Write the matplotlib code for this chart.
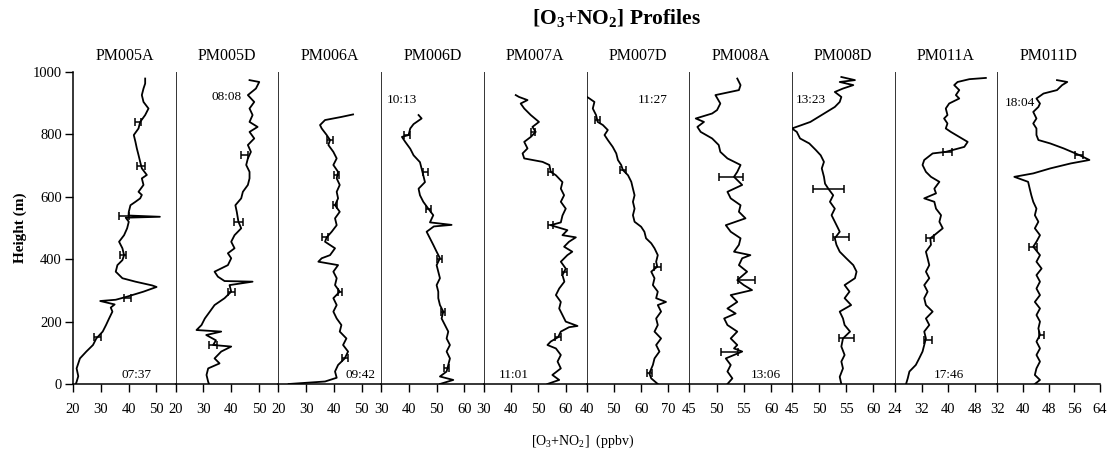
import matplotlib
matplotlib.use('Agg')
import matplotlib.pyplot as plt

plt.rcParams['font.family'] = ['Liberation Serif', 'DejaVu Serif']
plt.rcParams['mathtext.default'] = 'regular'

# ---------------- data ----------------
names = ["PM005A", "PM005D", "PM006A", "PM006D", "PM007A",
         "PM007D", "PM008A", "PM008D", "PM011A", "PM011D"]
times = ["07:37", "08:08", "09:42", "10:13", "11:01",
         "11:27", "13:06", "13:23", "17:46", "18:04"]

h1 = [0, 7, 25, 50, 82, 104, 125, 146, 168, 189, 210, 232, 245, 255, 266, 270, 280, 296, 311, 316,
      328, 339, 360, 381, 397, 413, 435, 456, 477, 499, 520, 533, 536, 540, 552, 573, 584, 595, 606, 616,
      638, 659, 670, 691, 712, 734, 755, 776, 798, 819, 840, 862, 883, 904, 926, 947, 963, 979]
v1 = [21, 21.3, 21.9, 21.3, 22.5, 24.8, 27.2, 28.4, 30.7, 31.9, 33, 34.2, 33.6, 35, 29.8, 35.4, 39.5, 45.4, 50.1, 48.5,
      42.5, 37.8, 35.4, 36, 37.8, 38.4, 37.8, 36.6, 38.4, 39.5, 40.1, 39, 51.3, 40, 40.1, 40.7, 42.5, 44.2, 44.8, 43.6,
      45.4, 44.8, 46.6, 44.8, 44.2, 43.6, 43, 42.5, 41.9, 43.6, 44.2, 46, 47.2, 45.4, 44.8, 45.4, 46, 46]

h2 = [0, 7, 29, 50, 66, 82, 104, 120, 125, 140, 157, 168, 173, 189, 210, 232, 253, 275, 296, 317,
      328, 330, 344, 360, 381, 403, 419, 435, 456, 477, 499, 520, 552, 573, 595, 616, 638, 659, 680, 702,
      723, 744, 766, 787, 808, 824, 840, 862, 883, 904, 926, 947, 968, 974]
v2 = [32, 31.7, 31.1, 31.7, 35.8, 34, 36.4, 40, 33.5, 34.5, 31, 36.4, 27.5, 29.3, 30.5, 32.3, 34, 37.6, 40, 39.4,
      47.7, 37.6, 35.2, 34, 38.8, 40, 38.8, 41.2, 40, 41.2, 43.6, 42.6, 42, 41.5, 43.6, 44.2, 46, 46.6, 46.6, 45.4,
      46, 47.1, 46, 48.3, 46.6, 49.5, 46.6, 47.7, 46.6, 48.3, 46, 48.9, 50.1, 46.6]

h3 = [0, 8, 20, 40, 61, 82, 104, 125, 146, 168, 189, 210, 232, 253, 275, 296, 317, 339, 360, 381,
      392, 403, 413, 435, 456, 470, 488, 509, 531, 552, 573, 595, 616, 638, 659, 680, 702, 723, 744, 766,
      782, 798, 819, 830, 846, 856, 864]
v3 = [23.7, 36.8, 41, 40.4, 41.5, 43.9, 45.1, 43.3, 44.5, 42.1, 42.7, 41, 39.8, 41, 39.8, 42.1, 40.4, 41, 39.8, 41.5,
      34.4, 35.6, 38.6, 40.4, 36.8, 37.4, 39.2, 41, 40.4, 42.1, 40.4, 41.5, 41, 42.1, 41, 41.5, 39.8, 41, 39.8, 38,
      38.6, 37.4, 35.6, 35, 36.8, 42.7, 46.9]

h4 = [0, 13, 24, 40, 61, 82, 104, 125, 146, 168, 189, 210, 232, 253, 275, 296, 317, 339, 360, 381,
      403, 424, 446, 467, 488, 505, 510, 518, 541, 562, 584, 605, 626, 647, 669, 690, 711, 733, 754, 776,
      792, 798, 819, 833, 851, 862]
v4 = [51.2, 56, 51.2, 53.6, 54.2, 54.8, 53.6, 54.8, 53.6, 54.2, 53, 51.8, 52.4, 51.2, 50.6, 50.6, 50, 51.2, 50.6, 50,
      51.2, 50, 48.8, 47.6, 46.4, 49, 55.4, 47.6, 48.8, 47, 45.2, 44, 43.5, 45.8, 45.2, 44.6, 44, 41.7, 40.5, 38.7,
      37.5, 39.9, 40.5, 41.7, 44.6, 43.5]

h5 = [0, 13, 29, 50, 72, 93, 114, 125, 136, 150, 168, 182, 186, 200, 221, 242, 263, 285, 306, 328,
      349, 370, 392, 413, 424, 440, 456, 470, 477, 493, 509, 518, 540, 562, 584, 605, 626, 647, 669, 680,
      702, 712, 723, 739, 755, 776, 792, 808, 824, 840, 862, 883, 899, 910, 920, 926]
v5 = [53.3, 57.6, 55.1, 58.2, 57, 58.2, 56.4, 53.3, 54.5, 57.2, 58.2, 61.2, 64.3, 60, 58.8, 57.6, 58.2, 56.4, 57.6, 59.5,
      58.8, 60, 58.2, 60.6, 62.4, 59.4, 61.2, 63.7, 58.8, 60.6, 54.5, 58.2, 58.8, 60, 58.2, 59.4, 58.2, 58.8, 56.4, 54.5,
      54, 51.5, 44.8, 44.2, 46, 44.8, 47.2, 49, 47.8, 50.2, 47.2, 44.8, 43.5, 46, 42.9, 41.7]

h6 = [0, 18, 34, 61, 82, 104, 125, 146, 168, 189, 210, 232, 253, 263, 275, 296, 317, 339, 360, 376,
      392, 413, 435, 451, 467, 488, 504, 520, 541, 562, 584, 605, 626, 648, 669, 686, 702, 718, 739, 760,
      782, 798, 814, 830, 840, 862, 883, 904, 915, 920]
v6 = [66.1, 63.7, 63, 64.3, 64.9, 66.7, 65.5, 67.3, 64.9, 66.1, 65.5, 67.3, 66.1, 69.1, 65.5, 66.1, 64.3, 64.9, 63.7, 65.9,
      65.5, 66.1, 64.9, 63.7, 61.8, 61.2, 60, 57.6, 57, 57.6, 57, 57.6, 57, 56.4, 55.2, 53.3, 52.7, 51.5, 50.9, 49.6,
      47.8, 46.6, 47.8, 46, 44.1, 43.5, 42.3, 42.9, 41.1, 40.2]

h7 = [0, 18, 40, 61, 82, 104, 114, 125, 146, 168, 189, 210, 226, 242, 263, 285, 301, 317, 333, 360,
      381, 403, 413, 424, 446, 467, 488, 509, 531, 552, 573, 595, 616, 638, 664, 680, 702, 723, 744, 766,
      787, 808, 824, 840, 851, 867, 878, 899, 926, 942, 958, 979]
v7 = [52, 52.9, 52, 52.6, 51.7, 54.7, 53.2, 53.8, 52.6, 53.8, 52, 51.4, 53.5, 52, 53.8, 52.6, 56.5, 55, 53.8, 55.6,
      54.1, 54.7, 56.2, 53.2, 54.1, 54.4, 52.6, 51.7, 55.3, 54.1, 54.4, 52.6, 52, 54.7, 53.2, 53.8, 54.4, 52, 50.7, 50.4,
      49.2, 47.1, 46.5, 47.7, 46.2, 49.2, 50.1, 50.7, 49.8, 54.1, 54.4, 53.8]

h8 = [0, 23, 50, 72, 93, 120, 146, 168, 189, 210, 232, 253, 275, 296, 317, 339, 360, 381, 403, 424,
      446, 467, 488, 499, 520, 541, 562, 584, 605, 626, 642, 664, 691, 712, 733, 750, 771, 787, 808, 819,
      830, 840, 856, 872, 888, 904, 920, 936, 947, 958, 968, 974, 984]
v8 = [54.1, 53.8, 54.4, 54.1, 54.7, 54.1, 54.4, 55.7, 54.7, 54.4, 53.8, 55.9, 54.7, 55.6, 54.7, 56.6, 56.9, 56.3, 55, 53.8,
      53.2, 52.9, 53.8, 53.5, 52.9, 52.3, 52.9, 52, 52.6, 51.7, 51.1, 50.9, 50.5, 50.9, 50.3, 49.4, 48.2, 46.5, 45.9, 45,
      46.8, 48.4, 49.9, 51.4, 52.9, 53.8, 54.1, 52.9, 54.4, 56.3, 53.8, 56.6, 54.1]

h9 = [0, 18, 40, 61, 82, 104, 125, 146, 168, 189, 210, 232, 253, 275, 296, 317, 339, 360, 381, 403,
      424, 446, 467, 477, 499, 520, 541, 562, 584, 595, 611, 626, 648, 664, 680, 702, 718, 739, 744, 760,
      776, 792, 808, 819, 835, 851, 862, 883, 899, 915, 926, 942, 958, 968, 977, 981]
v9 = [27.4, 27.9, 28.4, 30.3, 31.3, 32.3, 32.8, 33.3, 32.8, 34.3, 33.3, 35.3, 33.3, 32.8, 33.8, 32.8, 34.3, 33.3, 34.3, 33.8,
      33.3, 34.8, 34.6, 35.8, 38.3, 37.3, 37.8, 36.3, 35.8, 32.8, 36.3, 35.8, 37.3, 34.8, 33.3, 32.3, 32.8, 35.3, 39.2, 44.7,
      45.7, 43.2, 40.7, 39.2, 39.7, 38.7, 39.7, 39.2, 40.2, 43.2, 42.2, 43.2, 41.7, 42.7, 46.2, 51.1]

h10 = [0, 13, 29, 50, 72, 93, 114, 136, 157, 178, 200, 221, 242, 263, 285, 306, 328, 349, 370, 392,
       413, 440, 456, 477, 499, 520, 541, 562, 584, 605, 626, 648, 664, 675, 691, 707, 718, 734, 755, 771,
       782, 798, 819, 835, 851, 872, 888, 899, 915, 931, 942, 958, 968, 974]
v10 = [43.7, 45.3, 43.7, 44.2, 45.3, 44.2, 45.3, 44.2, 45.3, 44.8, 45.3, 44.2, 45.3, 43.7, 45.3, 44.2, 45.3, 44.2, 45.8, 44.2,
       45.3, 43.2, 44.2, 45.3, 43.7, 44.8, 43.7, 44.2, 43.2, 42.6, 42.1, 41.6, 37.3, 43.2, 48.5, 54.9, 60.7, 57.5, 52.7, 48.5,
       44.8, 44.2, 44.2, 43.2, 44.2, 43.2, 44.8, 45.3, 44.2, 46.4, 50.6, 52.2, 53.8, 50.6]

# error bars: heights, centres, half-widths
eb_h = [[150, 275, 413, 540, 700, 840], [125, 296, 520, 735], [82, 296, 470, 573, 670, 782],
        [50, 232, 400, 562, 680, 798], [150, 360, 509, 680, 808], [34, 376, 686, 846],
        [104, 333, 664], [146, 470, 626], [141, 467, 744], [157, 440, 734]]
eb_c = [[28.8, 39.5, 38, 38.5, 44.5, 43.5], [33.5, 40, 42.6, 44.8], [43.9, 42.1, 36.8, 40.4, 41, 38.6],
        [53.6, 52.4, 51, 47, 46, 39.3], [57.2, 59.5, 54.5, 54.5, 48], [63, 65.9, 53.3, 44.1],
        [52.4, 55.5, 52.6], [55.1, 54, 51.7], [33.8, 34.6, 39.7], [45.8, 43.1, 57.5]]
eb_w = [[1.2, 1.3, 1.0, 1.8, 1.3, 1.0], [1.5, 1.3, 1.5, 1.2], [1.0, 0.8, 1.0, 0.8, 0.8, 1.0],
        [1.0, 0.8, 0.8, 1.0, 1.0, 1.0], [1.0, 0.8, 1.0, 1.0, 0.8], [1.0, 1.2, 1.2, 1.0],
        [1.5, 1.6, 2.2], [1.4, 1.5, 2.8], [1.2, 1.2, 1.3], [0.8, 1.3, 1.3]]

x_limits = [(20, 57), (20, 57), (20, 57), (30, 67), (30, 67.6),
            (40, 77.6), (45, 63.8), (45, 63.9), (24, 54.5), (32, 64)]
x_ticks = [[20, 30, 40, 50], [20, 30, 40, 50], [20, 30, 40, 50], [30, 40, 50, 60], [30, 40, 50, 60],
           [40, 50, 60, 70], [45, 50, 55, 60], [45, 50, 55, 60], [24, 32, 40, 48], [32, 40, 48, 56, 64]]
y_ticks = [0, 200, 400, 600, 800, 1000]

heights = [h1, h2, h3, h4, h5, h6, h7, h8, h9, h10]
values = [v1, v2, v3, v4, v5, v6, v7, v8, v9, v10]

# time label placement (axes fraction)
time_pos = [(0.62, 0.03), (0.50, 0.92), (0.80, 0.03), (0.20, 0.91), (0.29, 0.03),
            (0.64, 0.91), (0.75, 0.03), (0.18, 0.91), (0.53, 0.03), (0.22, 0.90)]

# ---------------- figure ----------------
W, H = 1115, 453
fig = plt.figure(figsize=(W / 100, H / 100), dpi=100)
left, right = 73 / W, 1100 / W
bottom, top = 1 - 384 / H, 1 - 72 / H
pw = (right - left) / 10

for i in range(10):
    ax = fig.add_axes([left + i * pw, bottom, pw, top - bottom])
    ax.patch.set_alpha(0)
    ax.plot(values[i], heights[i], color='black', lw=1.3, zorder=3)
    ax.errorbar(eb_c[i], eb_h[i], xerr=eb_w[i], fmt='none', ecolor='black',
                elinewidth=1.1, capsize=3, capthick=1.1, zorder=3)
    ax.set_xlim(*x_limits[i])
    ax.set_ylim(0, 1000)
    ax.set_xticks(x_ticks[i])
    ax.set_xticklabels([str(t) for t in x_ticks[i]])
    ax.spines['top'].set_visible(False)
    ax.spines['right'].set_visible(False)
    ax.spines['bottom'].set_linewidth(1.1)
    ax.tick_params(axis='x', direction='out', length=6, width=1.0, pad=8, labelsize=10.5)
    if i == 0:
        ax.set_yticks(y_ticks)
        ax.tick_params(axis='y', direction='out', length=6, width=1.0, pad=2, labelsize=10.5)
        ax.spines['left'].set_linewidth(1.1)
        ax.set_ylabel('Height (m)', fontsize=11, fontweight='bold', labelpad=4)
    else:
        ax.tick_params(axis='y', left=False, labelleft=False)
        ax.spines['left'].set_linewidth(0.7)
        ax.spines['left'].set_color('#333333')
    ax.set_title(names[i], fontsize=11.5, pad=9)
    tx, ty = time_pos[i]
    ax.text(tx, ty, times[i], transform=ax.transAxes, ha='center', va='center', fontsize=9.5)

fig.text(617 / W, 1 - 18 / H, r'[O$_3$+NO$_2$] Profiles', ha='center', va='center',
         fontsize=15.5, fontweight='bold')
fig.text(583 / W, 1 - 441 / H, r'[O$_3$+NO$_2$]  (ppbv)', ha='center', va='center', fontsize=10)

fig.savefig('out.png', dpi=100)
